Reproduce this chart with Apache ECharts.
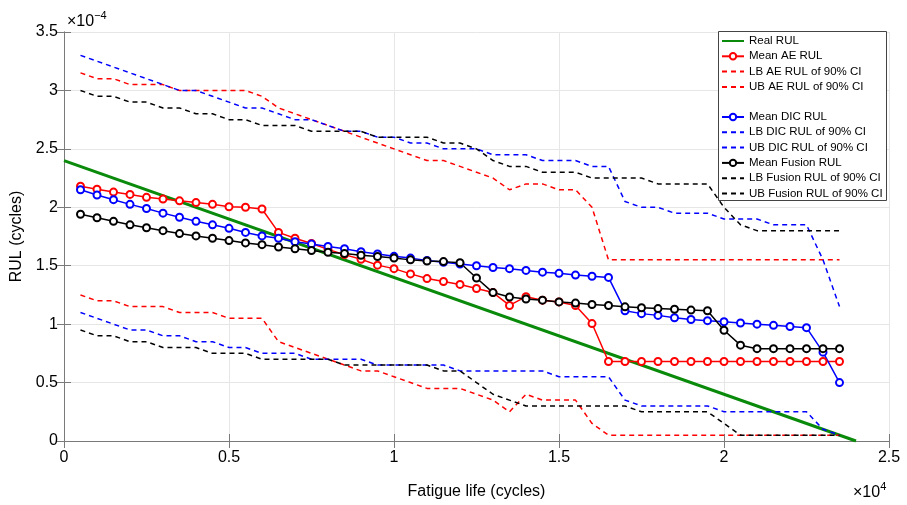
<!DOCTYPE html>
<html><head><meta charset="utf-8">
<script src="https://cdn.jsdelivr.net/npm/echarts@6/dist/echarts.min.js"></script>
<style>html,body{margin:0;padding:0;background:#fff}#c{width:907px;height:505px}</style>
</head><body><div id="c"></div>
<script>
// x positions (×10^4 cycles)
const xs = [0.05,0.1,0.15,0.2,0.25,0.3,0.35,0.4,0.45,0.5,0.55,0.6,0.65,0.7,0.75,0.8,0.85,0.9,0.95,1.0,1.05,1.1,1.15,1.2,1.25,1.3,1.35,1.4,1.45,1.5,1.55,1.6,1.65,1.7,1.75,1.8,1.85,1.9,1.95,2.0,2.05,2.1,2.15,2.2,2.25,2.3,2.35];
const realX = [0, 2.4];
const realY = [2.4, 0];
const meanAE = [2.18,2.155,2.13,2.11,2.085,2.07,2.055,2.04,2.025,2.005,2.0,1.985,1.785,1.735,1.69,1.64,1.595,1.555,1.505,1.475,1.43,1.39,1.365,1.34,1.305,1.27,1.16,1.235,1.205,1.19,1.16,1.005,0.68,0.68,0.68,0.68,0.68,0.68,0.68,0.68,0.68,0.68,0.68,0.68,0.68,0.68,0.68];
const lbAE = [1.25,1.2,1.2,1.15,1.15,1.15,1.1,1.1,1.1,1.05,1.05,1.05,0.85,0.8,0.75,0.7,0.65,0.6,0.6,0.55,0.5,0.45,0.45,0.45,0.4,0.35,0.25,0.4,0.35,0.35,0.35,0.15,0.05,0.05,0.05,0.05,0.05,0.05,0.05,0.05,0.05,0.05,0.05,0.05,0.05,0.05,0.05];
const ubAE = [3.15,3.1,3.1,3.05,3.05,3.05,3.0,3.0,3.0,3.0,3.0,2.95,2.85,2.8,2.75,2.7,2.65,2.6,2.55,2.5,2.45,2.4,2.4,2.35,2.3,2.25,2.15,2.2,2.2,2.15,2.15,2.0,1.55,1.55,1.55,1.55,1.55,1.55,1.55,1.55,1.55,1.55,1.55,1.55,1.55,1.55,1.55];
const meanDIC = [2.15,2.105,2.065,2.025,1.99,1.95,1.915,1.88,1.85,1.82,1.785,1.755,1.735,1.705,1.685,1.665,1.645,1.62,1.6,1.58,1.565,1.545,1.53,1.515,1.5,1.485,1.475,1.46,1.445,1.435,1.42,1.41,1.4,1.115,1.09,1.075,1.055,1.04,1.03,1.02,1.01,1.0,0.99,0.98,0.97,0.76,0.5];
const lbDIC = [1.1,1.05,1.0,0.95,0.95,0.9,0.9,0.85,0.85,0.8,0.8,0.75,0.75,0.75,0.7,0.7,0.7,0.7,0.65,0.65,0.65,0.65,0.65,0.6,0.6,0.6,0.6,0.6,0.6,0.55,0.55,0.55,0.55,0.35,0.3,0.3,0.3,0.3,0.3,0.25,0.25,0.25,0.25,0.25,0.25,0.1,0.05];
const ubDIC = [3.3,3.25,3.2,3.15,3.1,3.05,3.0,3.0,2.95,2.9,2.85,2.85,2.8,2.75,2.75,2.7,2.65,2.65,2.6,2.6,2.55,2.55,2.5,2.5,2.5,2.45,2.45,2.45,2.4,2.4,2.4,2.35,2.35,2.05,2.0,2.0,1.95,1.95,1.95,1.9,1.9,1.9,1.85,1.85,1.85,1.55,1.15];
const meanFusion = [1.94,1.91,1.88,1.85,1.825,1.8,1.775,1.755,1.735,1.715,1.695,1.68,1.66,1.645,1.63,1.615,1.605,1.59,1.578,1.565,1.55,1.54,1.535,1.525,1.395,1.27,1.232,1.215,1.205,1.19,1.18,1.168,1.16,1.148,1.14,1.133,1.127,1.12,1.115,0.948,0.82,0.79,0.79,0.79,0.79,0.79,0.79];
const lbFusion = [0.95,0.9,0.9,0.85,0.85,0.8,0.8,0.8,0.75,0.75,0.75,0.7,0.7,0.7,0.7,0.7,0.65,0.65,0.65,0.65,0.65,0.65,0.6,0.6,0.5,0.4,0.35,0.3,0.3,0.3,0.3,0.3,0.3,0.3,0.25,0.25,0.25,0.25,0.25,0.15,0.05,0.05,0.05,0.05,0.05,0.05,0.05];
const ubFusion = [3.0,2.95,2.95,2.9,2.9,2.85,2.85,2.8,2.8,2.75,2.75,2.7,2.7,2.7,2.65,2.65,2.65,2.65,2.6,2.6,2.6,2.6,2.55,2.55,2.5,2.4,2.35,2.35,2.3,2.3,2.3,2.25,2.25,2.25,2.25,2.2,2.2,2.2,2.2,2.0,1.85,1.8,1.8,1.8,1.8,1.8,1.8];
const xTicks = [0,0.5,1,1.5,2,2.5];
const yTicks = [0,0.5,1,1.5,2,2.5,3,3.5];
const names = ['Real RUL','Mean AE RUL','LB AE RUL of 90% CI','UB AE RUL of 90% CI','Mean DIC RUL','LB DIC RUL of 90% CI','UB DIC RUL of 90% CI','Mean Fusion RUL','LB Fusion RUL of 90% CI','UB Fusion RUL of 90% CI'];
const hasMarker = [false,true,false,false,true,false,false,true,false,false];

const FONT = '"Liberation Sans", Arial, Helvetica, sans-serif';
const pairs = (x, y) => x.map((v, i) => [v, y[i]]);

function meanSeries(name, ys, color) {
  return { name, type: 'line', data: pairs(xs, ys), symbol: 'emptyCircle', symbolSize: 7,
    lineStyle: { color, width: 1.5 }, itemStyle: { color, borderColor: color, borderWidth: 1.3 },
    z: 3 };
}
function dashSeries(name, ys, color) {
  return { name, type: 'line', data: pairs(xs, ys), symbol: 'none', showSymbol: false,
    lineStyle: { color, width: 1.5, type: [5, 4] }, itemStyle: { color }, z: 2 };
}
const legendItem = (n) => {
  const i = names.indexOf(n);
  return hasMarker[i] ? { name: n } : { name: n, itemStyle: { opacity: 0 } };
};

const axisCommon = {
  type: 'value', splitNumber: 5,
  axisLine: { show: true, lineStyle: { color: '#7a7a7a', width: 1 } },
  axisTick: { show: true, inside: true, length: 7, lineStyle: { color: '#7a7a7a' } },
};

const chart = echarts.init(document.getElementById('c'), null, { renderer: 'canvas' });
const legendCommon = { orient: 'vertical', left: 721, itemWidth: 22, itemHeight: 8, itemGap: 3.3,
  textStyle: { fontSize: 11.5, lineHeight: 11, color: '#000', fontFamily: FONT },
  backgroundColor: 'transparent', padding: 0, z: 10 };

chart.setOption({
  animation: false,
  grid: { left: 64, right: 18, top: 32, bottom: 62, containLabel: false },
  legend: [
    Object.assign({ top: 35, data: names.slice(0, 4).map(legendItem) }, legendCommon),
    Object.assign({ top: 111, data: names.slice(4).map(legendItem) }, legendCommon),
  ],
  xAxis: [
    Object.assign({}, axisCommon, { min: xTicks[0], max: xTicks[xTicks.length - 1], interval: 0.5, position: 'bottom',
      name: 'Fatigue life (cycles)', nameLocation: 'middle', nameGap: 43,
      nameTextStyle: { fontSize: 16, color: '#000', fontFamily: FONT },
      axisLabel: { fontSize: 16, color: '#000', margin: 9, fontFamily: FONT },
      splitLine: { show: true, lineStyle: { color: '#e6e6e6', width: 1 } } }),
    Object.assign({}, axisCommon, { min: xTicks[0], max: xTicks[xTicks.length - 1], interval: 0.5, position: 'top',
      axisLabel: { show: false }, splitLine: { show: false } }),
  ],
  yAxis: [
    Object.assign({}, axisCommon, { min: yTicks[0], max: yTicks[yTicks.length - 1], interval: 0.5, position: 'left',
      name: 'RUL (cycles)', nameLocation: 'middle', nameGap: 37, nameRotate: 90,
      nameTextStyle: { fontSize: 16, color: '#000', fontFamily: FONT },
      axisLabel: { fontSize: 16, color: '#000', margin: 6, fontFamily: FONT },
      splitLine: { show: true, lineStyle: { color: '#e6e6e6', width: 1 } } }),
    Object.assign({}, axisCommon, { min: yTicks[0], max: yTicks[yTicks.length - 1], interval: 0.5, position: 'right',
      axisLabel: { show: false }, splitLine: { show: false } }),
  ],
  graphic: [
    { type: 'rect', z: 8, shape: { x: 718.5, y: 31.5, width: 168, height: 169 },
      style: { fill: '#fff', stroke: '#444', lineWidth: 1 } },
    { type: 'text', left: 67, top: 10, z: 8,
      style: { text: '{a|×10}{b|−4}', rich: {
        a: { fontSize: 16, fontFamily: FONT, fill: '#000' },
        b: { fontSize: 11, fontFamily: FONT, fill: '#000', verticalAlign: 'top', padding: [0, 0, 12, 0] } } } },
    { type: 'text', left: 853, top: 481, z: 8,
      style: { text: '{a|×10}{b|4}', rich: {
        a: { fontSize: 16, fontFamily: FONT, fill: '#000' },
        b: { fontSize: 11, fontFamily: FONT, fill: '#000', verticalAlign: 'top', padding: [0, 0, 12, 0] } } } },
  ],
  series: [
    { name: names[0], type: 'line', data: pairs(realX, realY), symbol: 'none', showSymbol: false,
      lineStyle: { color: '#0a8a0a', width: 3 }, itemStyle: { color: '#0a8a0a' }, z: 2 },
    meanSeries(names[1], meanAE, '#ff0000'),
    dashSeries(names[2], lbAE, '#ff0000'),
    dashSeries(names[3], ubAE, '#ff0000'),
    meanSeries(names[4], meanDIC, '#0000ff'),
    dashSeries(names[5], lbDIC, '#0000ff'),
    dashSeries(names[6], ubDIC, '#0000ff'),
    meanSeries(names[7], meanFusion, '#000000'),
    dashSeries(names[8], lbFusion, '#000000'),
    dashSeries(names[9], ubFusion, '#000000'),
  ],
});
</script></body></html>
